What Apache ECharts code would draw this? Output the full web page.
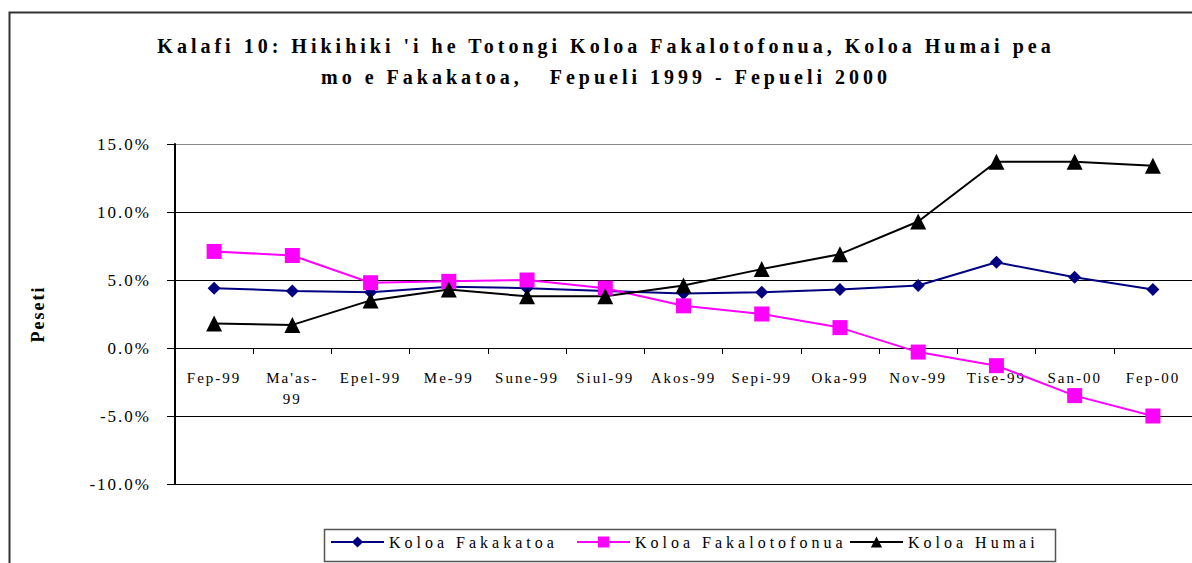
<!DOCTYPE html>
<html>
<head>
<meta charset="utf-8">
<script src="https://cdn.jsdelivr.net/npm/echarts@6/dist/echarts.min.js"></script>
<style>
    html, body { margin: 0; padding: 0; background: #fff; }
    #chart { width: 1192px; height: 563px; letter-spacing: 2px; }
    #chart text { white-space: pre; }
</style>
</head>
<body>
<div id="chart"></div>
<script>
    // kalafi 10 data (percent)
    var months = ['Fep-99', "Ma'as-99", 'Epel-99', 'Me-99', 'Sune-99', 'Siul-99', 'Akos-99',
        'Sepi-99', 'Oka-99', 'Nov-99', 'Tise-99', 'San-00', 'Fep-00'];
    var fakakatoa = [4.4, 4.2, 4.1, 4.5, 4.4, 4.2, 4.0, 4.1, 4.3, 4.6, 6.3, 5.2, 4.3];
    var fakalotofonua = [7.1, 6.8, 4.8, 4.9, 5.0, 4.4, 3.1, 2.5, 1.5, -0.3, -1.3, -3.5, -5.0];
    var humai = [1.8, 1.7, 3.5, 4.3, 3.8, 3.8, 4.6, 5.8, 6.9, 9.3, 13.7, 13.7, 13.4];
    var seriesNames = ['Koloa Fakakatoa', 'Koloa Fakalotofonua', 'Koloa Humai'];
    var titleText = "Kalafi 10: Hikihiki 'i he Totongi Koloa Fakalotofonua, Koloa Humai pea\nmo e Fakakatoa,   Fepueli 1999 - Fepueli 2000";

    var chart = echarts.init(document.getElementById('chart'), null, { renderer: 'svg' });
    var font = 'Liberation Serif';

    // one legend per item so the spaced-out text doesn't overlap the next icon
    var legendLefts = [330, 576, 849];
    var legends = seriesNames.map(function (name, i) {
        return {
            data: [name],
            left: legendLefts[i],
            top: 534,
            itemWidth: 53,
            itemHeight: 14,
            padding: 0,
            textStyle: { fontFamily: font, fontSize: 16, color: '#000' }
        };
    });

    chart.setOption({
        animation: false,
        title: {
            text: titleText,
            left: 601,
            top: 25,
            textAlign: 'center',
            textStyle: {
                fontFamily: font,
                fontWeight: 'bold',
                fontSize: 20,
                lineHeight: 31,
                color: '#000'
            }
        },
        graphic: [{
            type: 'rect',
            left: 7,
            top: 10,
            shape: { width: 1300, height: 700 },
            style: { fill: 'none', stroke: '#333', lineWidth: 2 },
            silent: true
        }, {
            // legend frame
            type: 'rect',
            left: 322,
            top: 527,
            shape: { width: 731, height: 32 },
            style: { fill: 'none', stroke: '#555', lineWidth: 1.5 },
            silent: true
        }],
        legend: legends,
        grid: {
            left: 175,
            right: -4,
            top: 144,
            bottom: 79
        },
        xAxis: {
            type: 'category',
            data: months,
            boundaryGap: true,
            offset: -136,
            axisLine: { onZero: false, lineStyle: { color: '#000', width: 1 } },
            axisTick: { show: true, length: 6, lineStyle: { color: '#000' } },
            axisLabel: {
                interval: 0,
                margin: 19,
                fontFamily: font,
                fontSize: 15,
                color: '#000',
                lineHeight: 21,
                formatter: function (v) { return v.replace("Ma'as-", "Ma'as-\n"); }
            }
        },
        yAxis: {
            type: 'value',
            min: -10,
            max: 15,
            interval: 5,
            name: 'Peseti',
            nameLocation: 'middle',
            nameGap: 128,
            nameTextStyle: { fontFamily: font, fontWeight: 'bold', fontSize: 18, color: '#000' },
            axisLine: { show: true, lineStyle: { color: '#000', width: 2 } },
            axisTick: { show: true, length: 8, lineStyle: { color: '#000' } },
            splitLine: { lineStyle: { color: ['#000', '#000', '#000', '#000', '#000', '#888'], width: 1 } },
            axisLabel: {
                margin: 24,
                fontFamily: font,
                fontSize: 17,
                color: '#000',
                formatter: function (v) { return v.toFixed(1) + '%'; }
            }
        },
        series: [
            {
                name: seriesNames[0],
                type: 'line',
                data: fakakatoa,
                symbol: 'diamond',
                symbolSize: 13,
                lineStyle: { color: '#000080', width: 2 },
                itemStyle: { color: '#000080' }
            },
            {
                name: seriesNames[1],
                type: 'line',
                data: fakalotofonua,
                symbol: 'rect',
                symbolSize: 15,
                lineStyle: { color: '#ff00ff', width: 2 },
                itemStyle: { color: '#ff00ff' }
            },
            {
                name: seriesNames[2],
                type: 'line',
                data: humai,
                symbol: 'triangle',
                symbolSize: 16,
                lineStyle: { color: '#000', width: 2 },
                itemStyle: { color: '#000' }
            }
        ]
    });

    // wider letter spacing on title and legend, like the original
    function spaceText() {
        document.querySelectorAll('#chart text').forEach(function (t) {
            var s = t.textContent;
            if (s.indexOf('Kalafi') === 0 || s.indexOf('mo e') === 0) {
                t.style.letterSpacing = '4px';
            } else if (seriesNames.indexOf(s) >= 0) {
                t.style.letterSpacing = '4px';
            }
        });
    }
    spaceText();
    chart.on('finished', spaceText);
</script>
</body>
</html>
